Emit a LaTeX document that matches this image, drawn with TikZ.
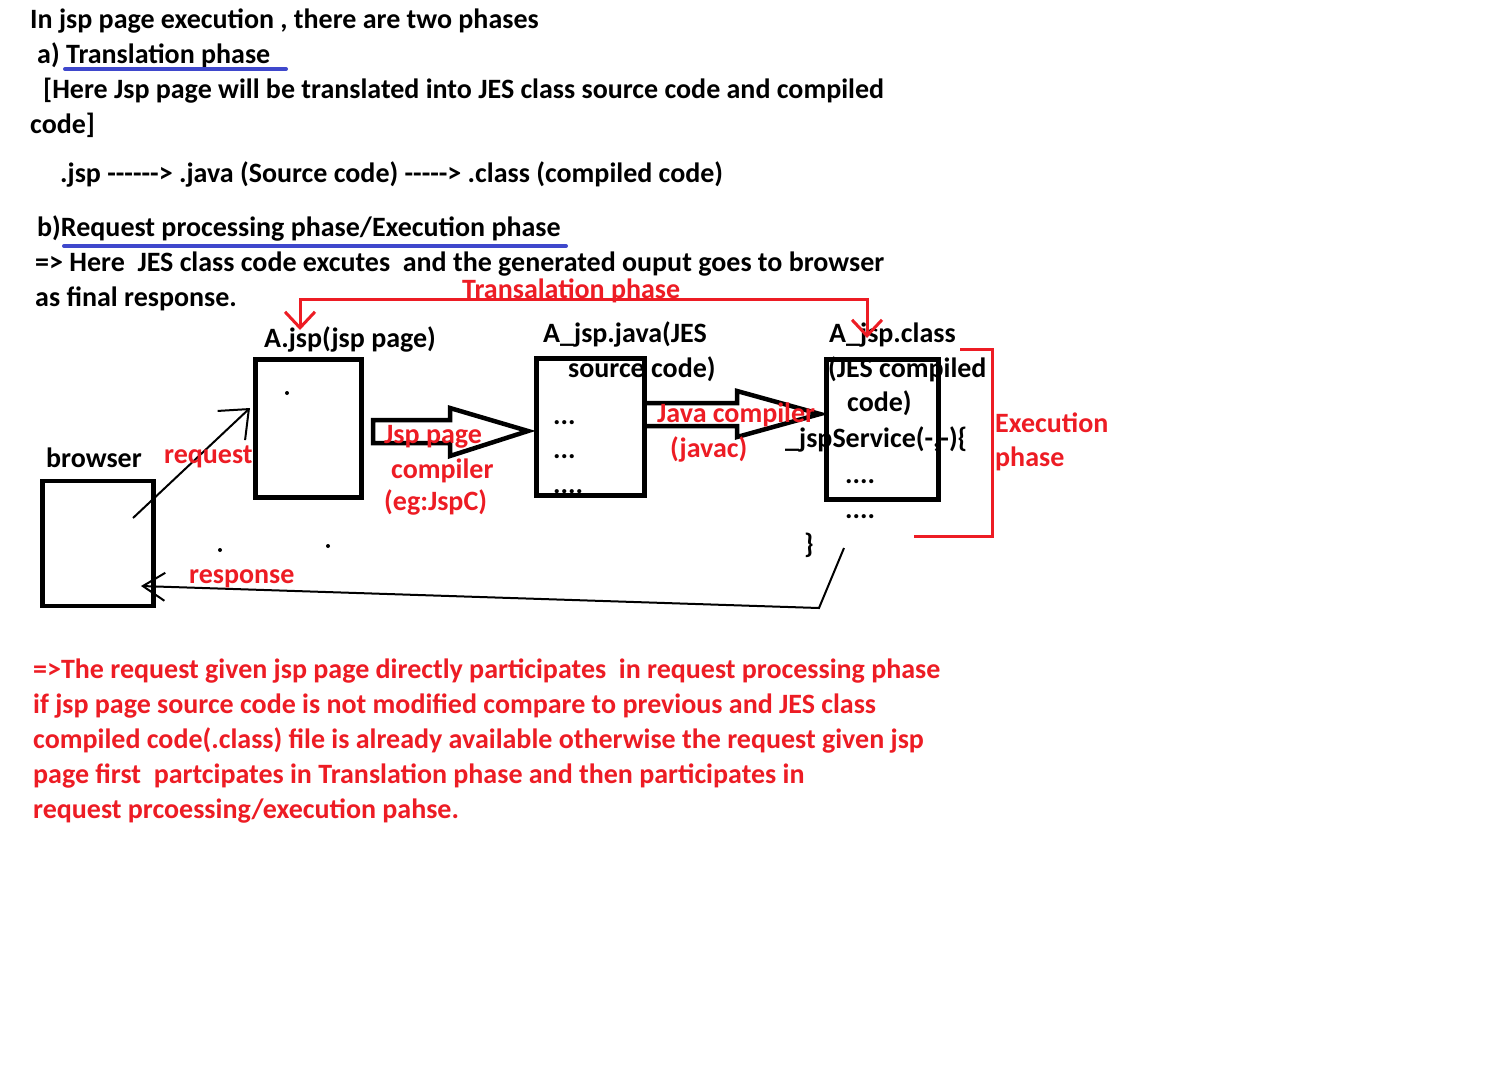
\documentclass[tikz,border=0pt]{standalone}
\usepackage{fontspec}
\setmainfont{Carlito}[Ligatures=TeXOff]
\usetikzlibrary{arrows.meta,positioning}
\definecolor{pred}{RGB}{237,28,36}
\definecolor{pblue}{RGB}{63,72,204}
\tikzset{
  txt/.style={anchor=base west,inner sep=0pt,font=\bfseries\fontsize{28}{35}\selectfont},
  rtxt/.style={txt,text=pred},
  pagebox/.style={draw,line width=4.5pt,inner sep=0pt},
  blockarr/.style={draw,line width=4.5pt,line join=miter},
  redln/.style={draw=pred,line width=3pt},
  blueln/.style={draw=pblue,line width=4pt,line cap=round},
  thinln/.style={draw,line width=2pt},
  vtip/.style={-{Straight Barb[length=16pt,width=30pt]}}
}

\begin{document}
\begin{tikzpicture}[x=1pt,y=-1pt]
	\useasboundingbox (0,0) rectangle (1512,1072);
	\fill[white] (0,0) rectangle (1512,1072);
	% the two phases
	\node[txt] (l1) at (30,28) {In jsp page execution , there are two phases};
	\node[txt] (l2) at (37,63) {a) Translation phase};
	\node[txt] (l3) at (43,98) {[Here Jsp page will be translated into JES class source code and compiled};
	\node[txt] (l4) at (30,133) {code]};
	\node[txt] (l5) at (60,182) {.jsp ------> .java (Source code) -----> .class (compiled code)};
	\node[txt] (l6) at (37,236) {b)Request processing phase/Execution phase};
	\node[txt] (l7) at (35,271) {=> Here\ \ JES class code excutes\ \ and the generated ouput goes to browser};
	\node[txt] (l8) at (35,306) {as final response.};
	\draw[blueln] (65,69) -- (286,69);
	\draw[blueln] (64,246) -- (566,246);

	% pages
	\node[pagebox,minimum width=111,minimum height=125] (browser) at (98,543.5) {};
	\node[pagebox,minimum width=106,minimum height=138] (jsp) at (308.5,428.5) {};
	\node[pagebox,minimum width=108,minimum height=137] (java) at (590.5,427) {};
	\node[pagebox,minimum width=112,minimum height=140] (cls) at (882.5,429.5) {};
	\fill (287,393) circle (2);
	\fill (220,550) circle (2);
	\fill (328,546) circle (2);

	% compilers
	\draw[blockarr] (373,420) -- (450,420) -- (450,408) -- (528,431) -- (450,456) -- (450,443) -- (373,443) -- cycle;
	\draw[blockarr] (java.east |- 0,403) -- (737,403) -- (737,391) -- (820,414) -- (737,437) -- (737,426) -- (java.east |- 0,426);

	\node[txt] (browserlbl) at (46,467) {browser};
	\node[txt] (jsplbl) at (264,347) {A.jsp(jsp page)};
	\node[txt] (javalbl) at (543,342) {A\_jsp.java(JES};
	\node[txt] (javalbl2) at (568,377) {source code)};
	\node[txt] (jd1) at (553,424) {...};
	\node[txt] (jd2) at (553,458) {...};
	\node[txt] (jd3) at (553,493) {....};
	\node[txt] (clslbl) at (829,342) {A\_jsp.class};
	\node[txt] (clslbl2) at (828,377) {(JES compiled};
	\node[txt] (clslbl3) at (847,411) {code)};
	\node[txt] (svc) at (785,447) {\_jspService(-,-)\{};
	\node[txt] (cd1) at (845,483) {....};
	\node[txt] (cd2) at (845,518) {....};
	\node[txt] (cd3) at (804,553) {\}};

	\node[rtxt] (jspc1) at (384,443) {Jsp page};
	\node[rtxt] (jspc2) at (391,478) {compiler};
	\node[rtxt] (jspc3) at (384,510) {(eg:JspC)};
	\node[rtxt] (javac1) at (657,422) {Java compiler};
	\node[rtxt] (javac2) at (670,457) {(javac)};

	% translation phase
	\coordinate (tjsp) at (300,330);
	\coordinate (tcls) at (867,338);
	\draw[redln,{Straight Barb[length=16pt,width=30pt]}-{Straight Barb[length=16pt,width=30pt]}] (tjsp) -- ++(0,-31) -| (tcls);
	\node[rtxt] (trans) at (462,298) {Transalation phase};

	% execution phase
	\draw[redln] (960,349) -- (992,349) -- (992,536) -- (914,536);
	\node[rtxt] (exec1) at (995,432) {Execution};
	\node[rtxt] (exec2) at (995,466) {phase};

	% request and response
	\coordinate (reqs) at (133,518);
	\coordinate (reqe) at (250,408);
	\draw[thinln,-{Straight Barb[length=24pt,width=40pt]}] (reqs) -- (reqe);
	\node[rtxt] (req) at (164,463) {request};
	\coordinate (resp0) at (844,548);
	\coordinate (resp1) at (819,608);
	\coordinate (respe) at (141,586);
	\draw[thinln,-{Straight Barb[length=22pt,width=28pt]}] (resp0) -- (resp1) -- (respe);
	\node[rtxt] (resp) at (189,583) {response};

	% note
	\node[rtxt] (n1) at (33,678) {=>The request given jsp page directly participates\ \ in request processing phase};
	\node[rtxt] (n2) at (33,713) {if jsp page source code is not modified compare to previous and JES class};
	\node[rtxt] (n3) at (33,748) {compiled code(.class) file is already available otherwise the request given jsp};
	\node[rtxt] (n4) at (33,783) {page first\ \ partcipates in Translation phase and then participates in};
	\node[rtxt] (n5) at (33,818) {request prcoessing/execution pahse.};
\end{tikzpicture}
\end{document}
